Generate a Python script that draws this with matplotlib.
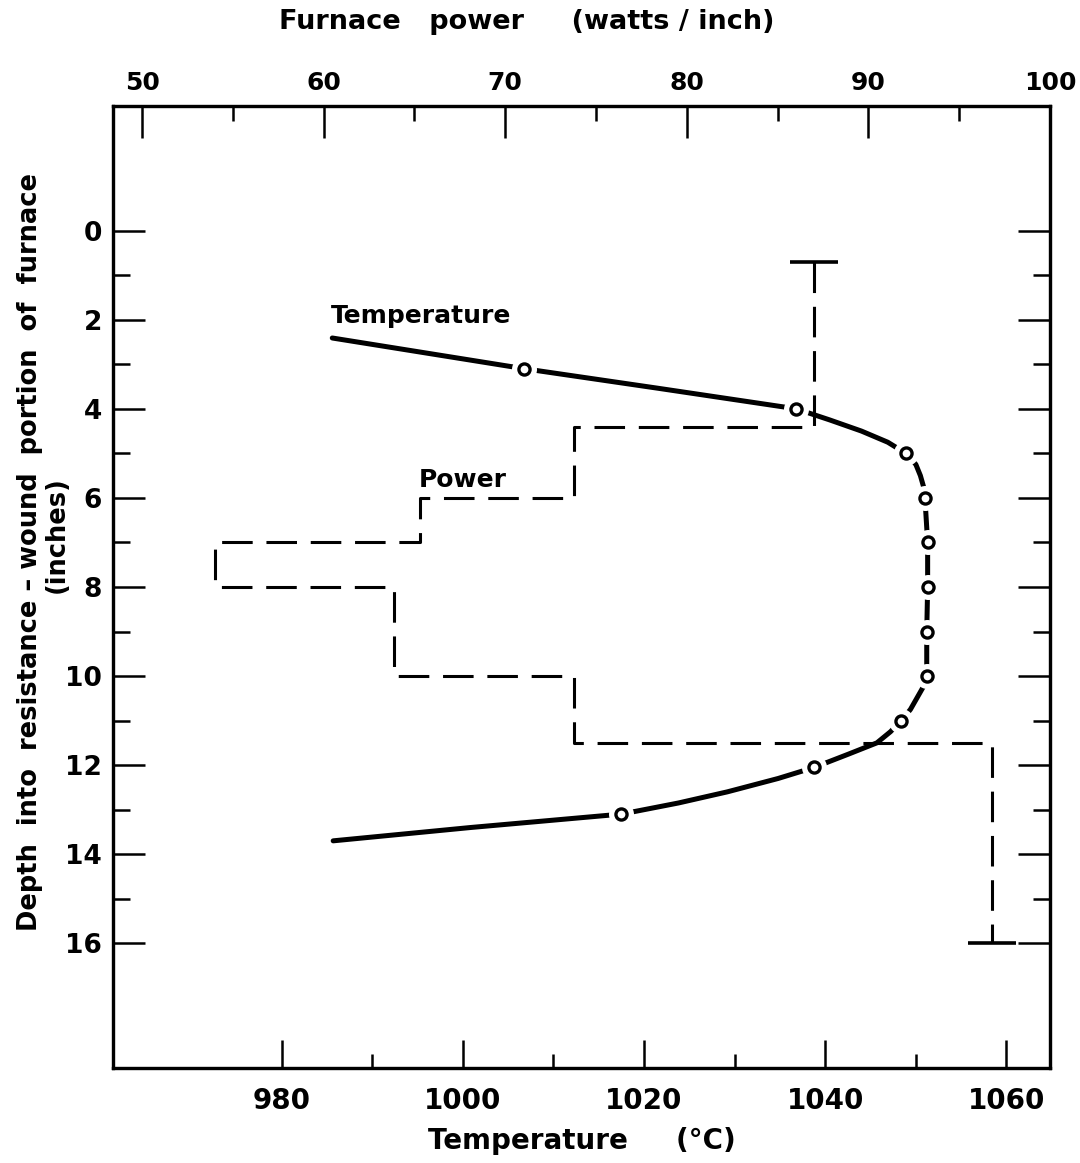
import numpy as np
import matplotlib
matplotlib.use('Agg')
import matplotlib.pyplot as plt

plt.rcParams['font.family'] = ['DejaVu Sans']
plt.rcParams['font.weight'] = 'bold'

# temperature profile (deg C vs depth in inches)
curve_temp = [985.6, 1006.8, 1021.6, 1036.8, 1040.5, 1044.0, 1046.9, 1048.9, 1050.0, 1050.5,
              1050.85, 1051.0, 1051.3, 1051.3, 1051.2, 1051.2, 1050.8, 1050.1, 1049.4, 1048.4,
              1047.2, 1045.7, 1042.6, 1038.8, 1034.8, 1029.2, 1023.8, 1017.5, 1000.9, 985.7]
curve_depth = [2.41, 3.1, 3.54, 4.0, 4.25, 4.5, 4.75, 5.0, 5.25, 5.5,
               5.75, 6.0, 7.0, 8.0, 9.0, 10.0, 10.25, 10.5, 10.75, 11.0,
               11.25, 11.5, 11.75, 12.05, 12.3, 12.6, 12.85, 13.1, 13.4, 13.7]

# measured points (open circles)
point_temp = [1006.8, 1036.8, 1048.9, 1051.0, 1051.3, 1051.3, 1051.2, 1051.2, 1048.4, 1038.8, 1017.5]
point_depth = [3.1, 4.0, 5.0, 6.0, 7.0, 8.0, 9.0, 10.0, 11.0, 12.05, 13.1]

# furnace power per winding section (watts/inch)
power_edges = [0.7, 4.4, 6.0, 7.0, 8.0, 10.0, 11.5, 16.0]
power_values = [87.0, 73.8, 65.3, 54.0, 63.9, 73.8, 96.8]

temp_ticks = [980, 1000, 1020, 1040, 1060]
temp_minor = [990, 1010, 1030, 1050]
power_ticks = [50, 60, 70, 80, 90, 100]
power_minor = [55, 65, 75, 85, 95]
depth_ticks = [0, 2, 4, 6, 8, 10, 12, 14, 16]
depth_minor = [1, 3, 5, 7, 9, 11, 13, 15]

fig = plt.figure(figsize=(10.8, 11.63), dpi=100)
ax = fig.add_axes([0.1046, 0.0817, 0.8676, 0.8272])
ax2 = ax.twiny()

ax.set_xlim(961.4, 1064.8)
ax.set_ylim(18.8, -2.8)
ax2.set_xlim(48.4, 100.0)

# temperature curve with broken line around the circles
ax.plot(curve_temp, curve_depth, color='black', lw=3.6,
        solid_capstyle='round', solid_joinstyle='round', zorder=2)
ax.plot(point_temp, point_depth, ls='none', marker='o', ms=18,
        mfc='white', mec='none', zorder=3)
ax.plot(point_temp, point_depth, ls='none', marker='o', ms=8,
        mfc='white', mec='black', mew=2.4, zorder=4)

# power steps
px = np.repeat(power_values, 2)
py = np.repeat(power_edges, 2)[1:-1]
ax2.plot(px, py, color='black', lw=2.2, dashes=(10, 4.5))
ax2.plot([power_values[0], power_values[-1]], [power_edges[0], power_edges[-1]],
         ls='none', marker='_', ms=34, mew=2.6, color='black')

ax.text(995.4, 1.92, 'Temperature', fontsize=18, ha='center', va='center')
ax.text(1000.0, 5.6, 'Power', fontsize=18, ha='center', va='center')

# axes styling
for a in (ax, ax2):
    for s in a.spines.values():
        s.set_linewidth(2.3)

ax.set_xticks(temp_ticks)
ax.set_xticks(temp_minor, minor=True)
ax.set_yticks(depth_ticks)
ax.set_yticks(depth_minor, minor=True)
ax.tick_params(axis='x', which='major', direction='in', length=20, width=1.8,
               labelsize=20, pad=14, top=False)
ax.tick_params(axis='x', which='minor', direction='in', length=10, width=1.8, top=False)
ax.tick_params(axis='y', which='major', direction='in', length=23, width=1.8,
               labelsize=19, pad=8, right=True)
ax.tick_params(axis='y', which='minor', direction='in', length=12, width=1.8, right=True)

ax2.set_xticks(power_ticks)
ax2.set_xticks(power_minor, minor=True)
ax2.tick_params(axis='x', which='major', direction='in', length=23, width=1.8,
                labelsize=18, pad=8)
ax2.tick_params(axis='x', which='minor', direction='in', length=11, width=1.8)

fig.text(527 / 1080, 1 - 22 / 1163, 'Furnace   power     (watts / inch)',
         fontsize=19.5, ha='center', va='center')
fig.text(582 / 1080, 1 - 1141 / 1163, 'Temperature     (°C)',
         fontsize=20, ha='center', va='center')
fig.text(30 / 1080, 1 - 552 / 1163,
         'Depth  into  resistance – wound  portion  of  furnace',
         fontsize=18.5, rotation=90, ha='center', va='center')
fig.text(57 / 1080, 1 - 535 / 1163, '(inches)',
         fontsize=18.5, rotation=90, ha='center', va='center')

fig.savefig('out.png', dpi=100)
